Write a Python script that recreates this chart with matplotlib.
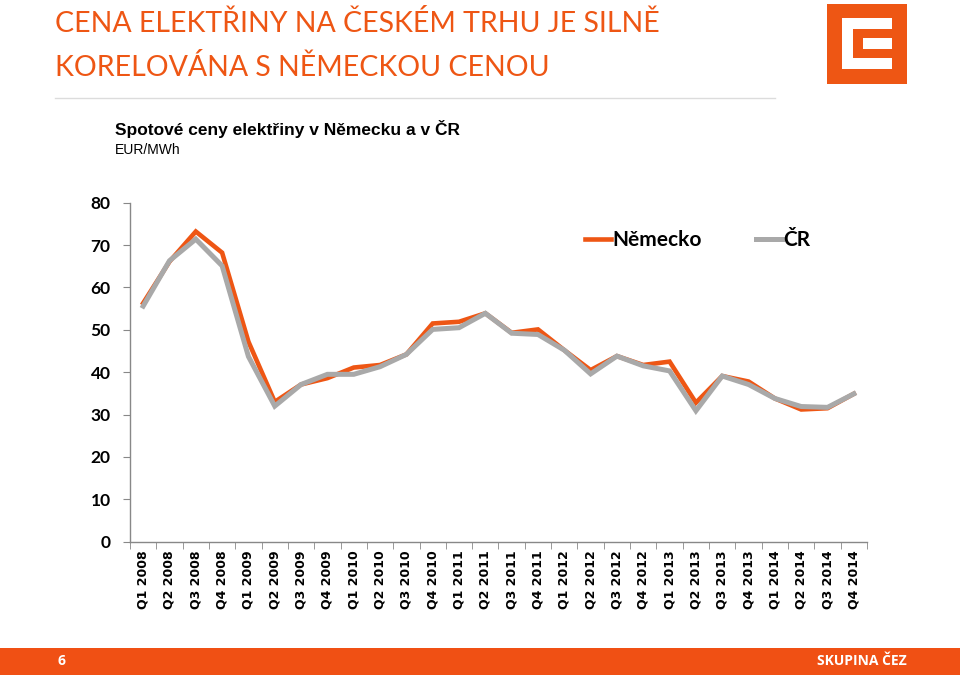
import numpy as np
import matplotlib
matplotlib.use('Agg')
import matplotlib.pyplot as plt
from matplotlib.patches import Rectangle

# data (EUR/MWh)
quarters = ['Q1 2008', 'Q2 2008', 'Q3 2008', 'Q4 2008',
            'Q1 2009', 'Q2 2009', 'Q3 2009', 'Q4 2009',
            'Q1 2010', 'Q2 2010', 'Q3 2010', 'Q4 2010',
            'Q1 2011', 'Q2 2011', 'Q3 2011', 'Q4 2011',
            'Q1 2012', 'Q2 2012', 'Q3 2012', 'Q4 2012',
            'Q1 2013', 'Q2 2013', 'Q3 2013', 'Q4 2013',
            'Q1 2014', 'Q2 2014', 'Q3 2014', 'Q4 2014']
nemecko = [56.3, 66.1, 73.2, 68.2, 47.2, 33.0, 37.1, 38.6, 41.1, 41.7,
           44.2, 51.5, 51.9, 53.9, 49.3, 50.1, 45.2, 40.5, 43.8, 41.7,
           42.5, 32.8, 39.1, 37.8, 33.8, 31.2, 31.5, 34.9]
cr = [55.6, 66.3, 71.4, 65.1, 43.7, 32.0, 37.1, 39.5, 39.5, 41.3,
      44.2, 50.1, 50.5, 53.9, 49.2, 48.9, 45.2, 39.6, 43.8, 41.5,
      40.3, 30.9, 39.1, 37.1, 33.8, 31.9, 31.7, 34.9]
y_ticks = [0, 10, 20, 30, 40, 50, 60, 70, 80]

ORANGE = '#EE5614'
GRAY = '#A9A9A9'

fig = plt.figure(figsize=(9.6, 6.75), dpi=100)

# title + header
fig.text(55/960, 1 - 23/675, 'CENA ELEKTŘINY NA ČESKÉM TRHU JE SILNĚ',
         color=ORANGE, fontsize=20.5, family='Lato', va='center', ha='left')
fig.text(55/960, 1 - 68/675, 'KORELOVÁNA S NĚMECKOU CENOU',
         color=ORANGE, fontsize=20.5, family='Lato', va='center', ha='left')
fig.add_artist(plt.Line2D([55/960, 775/960], [1 - 98/675, 1 - 98/675],
                          color='#dcdcdc', lw=1))
fig.text(115/960, 1 - 129/675, 'Spotové ceny elektřiny v Německu a v ČR',
         fontsize=12.5, weight='bold', family=['Liberation Sans Narrow', 'Liberation Sans'],
         va='center', ha='left')
fig.text(115/960, 1 - 150/675, 'EUR/MWh', fontsize=10,
         family=['Liberation Sans Narrow', 'Liberation Sans'], va='center', ha='left')

# logo
def fig_rect(x0, y0, x1, y1, color):
    fig.add_artist(Rectangle((x0/960, 1 - y1/675), (x1 - x0)/960, (y1 - y0)/675,
                             transform=fig.transFigure, facecolor=color,
                             edgecolor='none'))

fig_rect(827, 4, 907, 84, ORANGE)
fig_rect(842, 18, 892, 29, 'white')
fig_rect(842, 18, 853, 69, 'white')
fig_rect(842, 58, 892, 69, 'white')
fig_rect(863, 38, 892, 49, 'white')

# footer band
fig_rect(0, 648, 960, 675, '#F05014')
fig.text(57/960, 1 - 661/675, '6', color='white', fontsize=10, weight='bold',
         family='Open Sans', va='center')
fig.text(907/960, 1 - 661/675, 'SKUPINA ČEZ', color='white', fontsize=10,
         weight='bold', family='Open Sans', va='center', ha='right')

# chart
ax = fig.add_axes([130/960, 1 - 541.7/675, 737/960, 339/675])
x = np.arange(len(quarters))
ax.plot(x, nemecko, color=ORANGE, lw=3.3, label='Německo', solid_joinstyle='miter')
ax.plot(x, cr, color=GRAY, lw=3.6, label='ČR', solid_joinstyle='miter')

ax.set_xlim(-0.5, len(quarters) - 0.5)
ax.set_ylim(0, 80)
ax.set_yticks(y_ticks)
ax.set_yticklabels([str(v) for v in y_ticks], fontsize=12.5, weight='bold', family='Lato')
ax.set_xticks(x)
ax.set_xticklabels(quarters, rotation=90, fontsize=9, weight='bold', family='DejaVu Sans')
ax.set_xticks(np.arange(len(quarters) + 1) - 0.5, minor=True)
ax.tick_params(axis='x', which='major', length=0, pad=6)
ax.tick_params(axis='x', which='minor', length=5, color='#888888', direction='out')
ax.tick_params(axis='y', length=5, color='#888888', direction='out', pad=9)

for s in ['top', 'right']:
    ax.spines[s].set_visible(False)
for s in ['left', 'bottom']:
    ax.spines[s].set_color('#888888')
    ax.spines[s].set_linewidth(1)

leg = ax.legend(loc='center left', bbox_to_anchor=(575/960, 1 - 240/675),
                bbox_transform=fig.transFigure, ncol=2, frameon=False, borderpad=0,
                handlelength=1.25, handletextpad=0.05, columnspacing=2.6,
                prop={'family': 'Lato', 'weight': 'bold', 'size': 15})

fig.savefig('out.png', dpi=100)
